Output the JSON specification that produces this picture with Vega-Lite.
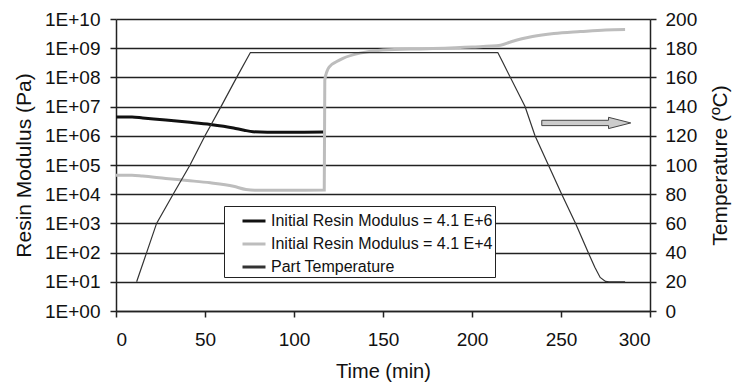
{
  "$schema": "https://vega.github.io/schema/vega-lite/v6.json",
  "width": 534,
  "height": 292,
  "autosize": {"type": "none"},
  "padding": {"left": 116, "top": 19, "right": 83, "bottom": 74},
  "background": "white",
  "config": {
    "font": "Liberation Sans",
    "view": {"stroke": null},
    "axis": {
      "labelFont": "Liberation Sans",
      "titleFont": "Liberation Sans",
      "labelColor": "#111",
      "titleColor": "#111",
      "labelFontSize": 19,
      "titleFontWeight": "normal",
      "domainColor": "#222",
      "domainWidth": 1.5,
      "tickColor": "#222",
      "tickWidth": 1.5,
      "tickSize": 6,
      "labelOverlap": false
    },
    "legend": {
      "labelFont": "Liberation Sans",
      "labelFontSize": 16,
      "labelColor": "#111"
    }
  },
  "datasets": {
    "modulus": [
      {"t": 0, "E": 4.4e6, "series": "Initial Resin Modulus = 4.1 E+6"},
      {"t": 9, "E": 4.4e6, "series": "Initial Resin Modulus = 4.1 E+6"},
      {"t": 15, "E": 4.07e6, "series": "Initial Resin Modulus = 4.1 E+6"},
      {"t": 28, "E": 3.47e6, "series": "Initial Resin Modulus = 4.1 E+6"},
      {"t": 40, "E": 2.95e6, "series": "Initial Resin Modulus = 4.1 E+6"},
      {"t": 53, "E": 2.45e6, "series": "Initial Resin Modulus = 4.1 E+6"},
      {"t": 66, "E": 1.86e6, "series": "Initial Resin Modulus = 4.1 E+6"},
      {"t": 72, "E": 1.55e6, "series": "Initial Resin Modulus = 4.1 E+6"},
      {"t": 77, "E": 1.38e6, "series": "Initial Resin Modulus = 4.1 E+6"},
      {"t": 85, "E": 1.33e6, "series": "Initial Resin Modulus = 4.1 E+6"},
      {"t": 100, "E": 1.33e6, "series": "Initial Resin Modulus = 4.1 E+6"},
      {"t": 117, "E": 1.35e6, "series": "Initial Resin Modulus = 4.1 E+6"},
      {"t": 0, "E": 4.5e4, "series": "Initial Resin Modulus = 4.1 E+4"},
      {"t": 9, "E": 4.5e4, "series": "Initial Resin Modulus = 4.1 E+4"},
      {"t": 15, "E": 4.2e4, "series": "Initial Resin Modulus = 4.1 E+4"},
      {"t": 28, "E": 3.47e4, "series": "Initial Resin Modulus = 4.1 E+4"},
      {"t": 40, "E": 2.95e4, "series": "Initial Resin Modulus = 4.1 E+4"},
      {"t": 53, "E": 2.45e4, "series": "Initial Resin Modulus = 4.1 E+4"},
      {"t": 66, "E": 1.86e4, "series": "Initial Resin Modulus = 4.1 E+4"},
      {"t": 73, "E": 1.45e4, "series": "Initial Resin Modulus = 4.1 E+4"},
      {"t": 78, "E": 1.36e4, "series": "Initial Resin Modulus = 4.1 E+4"},
      {"t": 100, "E": 1.36e4, "series": "Initial Resin Modulus = 4.1 E+4"},
      {"t": 117, "E": 1.38e4, "series": "Initial Resin Modulus = 4.1 E+4"},
      {"t": 117.3, "E": 8e7, "series": "Initial Resin Modulus = 4.1 E+4"},
      {"t": 118.5, "E": 1.6e8, "series": "Initial Resin Modulus = 4.1 E+4"},
      {"t": 120, "E": 2.35e8, "series": "Initial Resin Modulus = 4.1 E+4"},
      {"t": 124, "E": 3.5e8, "series": "Initial Resin Modulus = 4.1 E+4"},
      {"t": 127.5, "E": 4.5e8, "series": "Initial Resin Modulus = 4.1 E+4"},
      {"t": 137, "E": 6.8e8, "series": "Initial Resin Modulus = 4.1 E+4"},
      {"t": 150, "E": 8.7e8, "series": "Initial Resin Modulus = 4.1 E+4"},
      {"t": 175, "E": 9.6e8, "series": "Initial Resin Modulus = 4.1 E+4"},
      {"t": 200, "E": 1.1e9, "series": "Initial Resin Modulus = 4.1 E+4"},
      {"t": 216, "E": 1.26e9, "series": "Initial Resin Modulus = 4.1 E+4"},
      {"t": 222, "E": 1.66e9, "series": "Initial Resin Modulus = 4.1 E+4"},
      {"t": 228, "E": 2.1e9, "series": "Initial Resin Modulus = 4.1 E+4"},
      {"t": 234, "E": 2.5e9, "series": "Initial Resin Modulus = 4.1 E+4"},
      {"t": 246, "E": 3.16e9, "series": "Initial Resin Modulus = 4.1 E+4"},
      {"t": 261, "E": 3.7e9, "series": "Initial Resin Modulus = 4.1 E+4"},
      {"t": 275, "E": 4.2e9, "series": "Initial Resin Modulus = 4.1 E+4"},
      {"t": 286, "E": 4.35e9, "series": "Initial Resin Modulus = 4.1 E+4"}
    ],
    "temperature": [
      {"t": 11.6, "T": 20, "series": "Part Temperature"},
      {"t": 17.2, "T": 40, "series": "Part Temperature"},
      {"t": 22.8, "T": 60, "series": "Part Temperature"},
      {"t": 32.1, "T": 80, "series": "Part Temperature"},
      {"t": 41.6, "T": 100, "series": "Part Temperature"},
      {"t": 50, "T": 120, "series": "Part Temperature"},
      {"t": 59, "T": 140, "series": "Part Temperature"},
      {"t": 67.8, "T": 160, "series": "Part Temperature"},
      {"t": 75.5, "T": 177, "series": "Part Temperature"},
      {"t": 214.5, "T": 177, "series": "Part Temperature"},
      {"t": 217, "T": 171, "series": "Part Temperature"},
      {"t": 229.8, "T": 140, "series": "Part Temperature"},
      {"t": 235.4, "T": 120, "series": "Part Temperature"},
      {"t": 242.9, "T": 100, "series": "Part Temperature"},
      {"t": 250.4, "T": 80, "series": "Part Temperature"},
      {"t": 258.2, "T": 60, "series": "Part Temperature"},
      {"t": 265.3, "T": 40, "series": "Part Temperature"},
      {"t": 269, "T": 30, "series": "Part Temperature"},
      {"t": 272, "T": 23, "series": "Part Temperature"},
      {"t": 275, "T": 20.3, "series": "Part Temperature"},
      {"t": 277, "T": 20, "series": "Part Temperature"},
      {"t": 286, "T": 20, "series": "Part Temperature"}
    ],
    "arrow": [
      {"t": 264.2, "T": 128.8}
    ]
  },
  "layer": [
    {
      "data": {"name": "modulus"},
      "mark": {"type": "line", "interpolate": "monotone"},
      "encoding": {
        "x": {
          "field": "t",
          "type": "quantitative",
          "scale": {"domain": [0, 300], "nice": false},
          "axis": {
            "values": [0, 50, 100, 150, 200, 250, 300],
            "title": "Time (min)",
            "titleFontSize": 20,
            "labelPadding": 13,
            "titlePadding": 12,
            "grid": false
          }
        },
        "y": {
          "field": "E",
          "type": "quantitative",
          "scale": {"type": "log", "domain": [1, 1e10], "nice": false},
          "axis": {
            "orient": "left",
            "values": [1, 10, 100, 1000, 10000, 100000, 1000000, 10000000, 100000000, 1000000000, 10000000000],
            "labelExpr": "'1E+' + (round(log(datum.value)/LN10) < 10 ? '0' : '') + round(log(datum.value)/LN10)",
            "title": "Resin Modulus (Pa)",
            "titleFontSize": 21,
            "labelPadding": 10,
            "titlePadding": 10,
            "grid": true,
            "gridColor": "#222",
            "gridWidth": 1.6,
            "gridOpacity": 1
          }
        },
        "color": {
          "field": "series",
          "type": "nominal",
          "scale": {
            "domain": ["Initial Resin Modulus = 4.1 E+6", "Initial Resin Modulus = 4.1 E+4", "Part Temperature"],
            "range": ["#111111", "#bdbdbd", "#333333"]
          },
          "legend": {
            "title": null,
            "orient": "none",
            "legendX": 108,
            "legendY": 187,
            "symbolType": "stroke",
            "symbolSize": 529,
            "symbolOffset": 15,
            "labelOffset": 4,
            "labelLimit": 500,
            "labelExpr": "datum.label + '\u00a0\u00a0\u00a0\u00a0'",
            "rowPadding": 2,
            "padding": 2,
            "fillColor": "white",
            "strokeColor": "#222"
          }
        },
        "strokeWidth": {
          "field": "series",
          "type": "nominal",
          "scale": {
            "domain": ["Initial Resin Modulus = 4.1 E+6", "Initial Resin Modulus = 4.1 E+4", "Part Temperature"],
            "range": [3, 3, 1.2]
          },
          "legend": {
            "title": null,
            "orient": "none",
            "legendX": 108,
            "legendY": 187,
            "symbolType": "stroke",
            "symbolSize": 529,
            "symbolOffset": 15,
            "labelOffset": 4,
            "labelLimit": 500,
            "labelExpr": "datum.label + '\u00a0\u00a0\u00a0\u00a0'",
            "rowPadding": 2,
            "padding": 2,
            "fillColor": "white",
            "strokeColor": "#222"
          }
        }
      }
    },
    {
      "layer": [
        {
          "data": {"name": "temperature"},
          "mark": {"type": "line", "strokeWidth": 1.2},
          "encoding": {
            "x": {"field": "t", "type": "quantitative"},
            "y": {
              "field": "T",
              "type": "quantitative",
              "scale": {"domain": [0, 200], "nice": false},
              "axis": {
                "orient": "right",
                "values": [0, 20, 40, 60, 80, 100, 120, 140, 160, 180, 200],
                "title": "Temperature (ºC)",
                "titleFontSize": 21,
                "titleAngle": -90,
                "titleBaseline": "top",
                "labelPadding": 9,
                "titlePadding": 13,
                "grid": false
              }
            },
            "color": {"field": "series", "type": "nominal"}
          }
        },
        {
          "data": {"name": "arrow"},
          "mark": {
            "type": "point",
            "shape": "M-1,-0.06L0.5,-0.06L0.5,-0.127L1,0L0.5,0.127L0.5,0.06L-1,0.06Z",
            "filled": true,
            "fill": "#cccccc",
            "stroke": "#444444",
            "strokeWidth": 1,
            "opacity": 1,
            "size": 7921
          },
          "encoding": {
            "x": {"field": "t", "type": "quantitative"},
            "y": {
              "field": "T",
              "type": "quantitative",
              "scale": {"domain": [0, 200], "nice": false},
              "axis": {
                "orient": "right",
                "values": [0, 20, 40, 60, 80, 100, 120, 140, 160, 180, 200],
                "title": "Temperature (ºC)",
                "titleFontSize": 21,
                "titleAngle": -90,
                "titleBaseline": "top",
                "labelPadding": 9,
                "titlePadding": 13,
                "grid": false
              }
            }
          }
        }
      ]
    }
  ],
  "resolve": {"scale": {"y": "independent"}}
}
